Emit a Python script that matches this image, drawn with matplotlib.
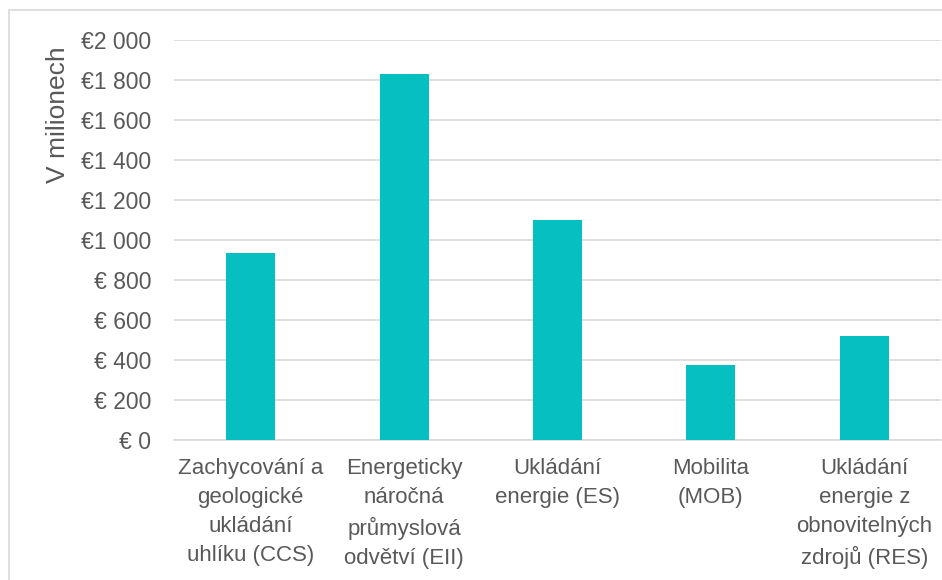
import matplotlib.pyplot as plt
from matplotlib.patches import Rectangle
from matplotlib.ticker import FuncFormatter

plt.rcParams['font.family'] = ['Liberation Sans', 'DejaVu Sans']

categories = [
    "Zachycování a\ngeologické\nukládání\nuhlíku (CCS)",
    "Energeticky\nnáročná\nprůmyslová\nodvětví (EII)",
    "Ukládání\nenergie (ES)",
    "Mobilita\n(MOB)",
    "Ukládání\nenergie z\nobnovitelných\nzdrojů (RES)",
]
values = [935, 1832, 1100, 375, 522]
y_ticks = [0, 200, 400, 600, 800, 1000, 1200, 1400, 1600, 1800, 2000]

text_color = "#595959"
bar_color = "#06BFC0"
grid_color = "#d9d9d9"


def euro(v, pos):
    v = int(v)
    if v >= 1000:
        return "€{} {:03d}".format(v // 1000, v % 1000)
    return "€ {}".format(v)


fig = plt.figure(figsize=(9.42, 5.8), dpi=100)
ax = fig.add_axes([174 / 942, 1 - 440 / 580, (941 - 174) / 942, 400 / 580])

x = range(len(categories))
ax.bar(x, values, width=0.32, color=bar_color, zorder=3)

ax.set_xlim(-0.5, len(categories) - 0.5)
ax.set_ylim(0, 2000)
ax.set_yticks(y_ticks)
ax.yaxis.set_major_formatter(FuncFormatter(euro))
ax.set_xticks(list(x))
ax.set_xticklabels(categories, fontsize=16, color=text_color, linespacing=1.5,
                   va="top")
ax.tick_params(axis="y", labelsize=16.5, labelcolor=text_color, length=0, pad=16.5)
ax.tick_params(axis="x", length=0, pad=13)

ax.grid(axis="y", color=grid_color, linewidth=1.2, zorder=0)
for side in ["top", "right", "left"]:
    ax.spines[side].set_visible(False)
ax.spines["bottom"].set_color(grid_color)
ax.spines["bottom"].set_linewidth(1.2)

fig.text(58 / 942, 1 - 115 / 580, "V milionech", rotation=90, fontsize=19,
         color=text_color, ha="center", va="center")

# frame around the chart
fig.patches.append(Rectangle((9 / 942, -0.1), 1.2, 1 - 10 / 580 + 0.1,
                             transform=fig.transFigure, fill=False,
                             edgecolor="#d9d9d9", linewidth=1.2))

fig.savefig("out.png", dpi=100)
